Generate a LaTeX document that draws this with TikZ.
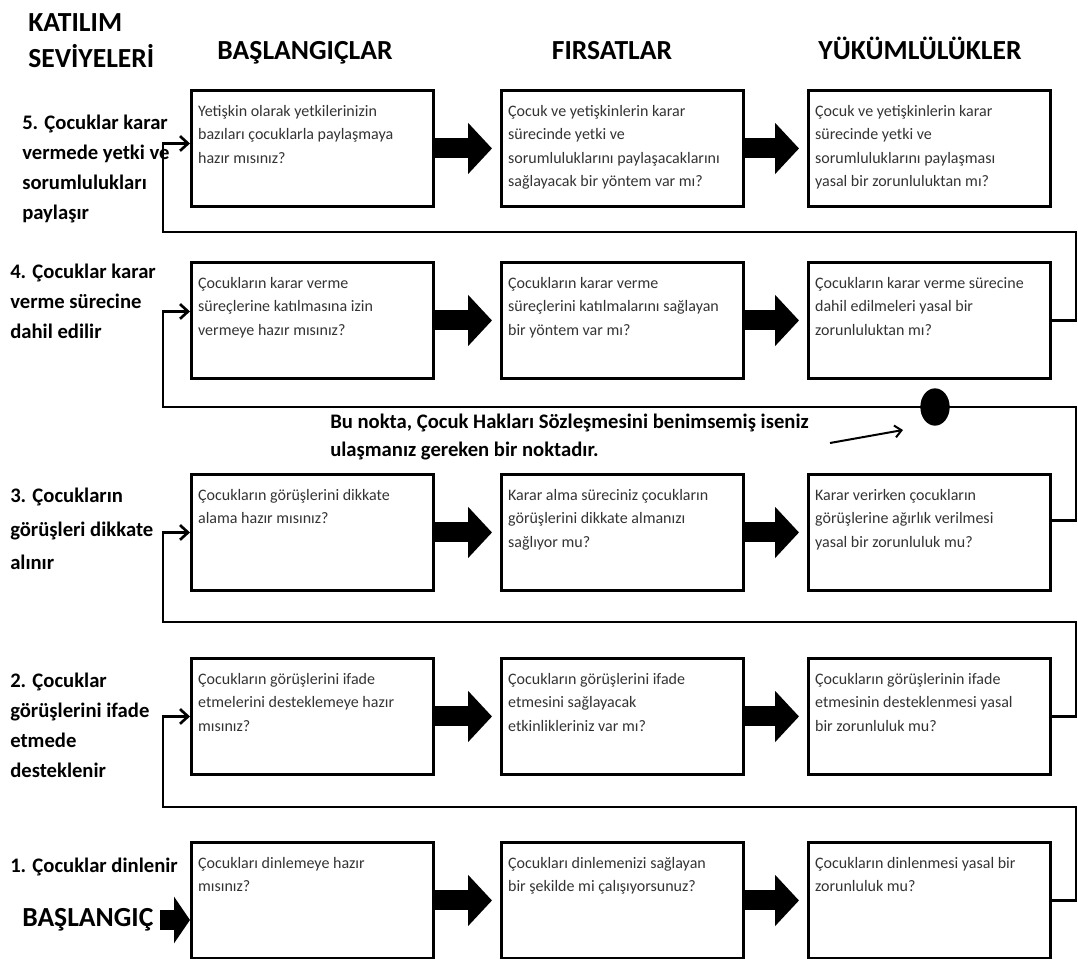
\documentclass[tikz,border=0pt]{standalone}
\usepackage{fontspec}
\setmainfont{Carlito}
\usetikzlibrary{arrows.meta,shapes.geometric}

\tikzset{
  qbox/.style={draw, line width=2.2pt, inner xsep=5pt, inner ysep=1.5pt, anchor=north west},
  lvl/.style={font=\fontsize{15.5}{22.5}\selectfont\bfseries, align=left, anchor=north west, inner sep=0pt},
  head/.style={font=\fontsize{20.7}{27}\selectfont\bfseries, inner sep=0pt},
  fat/.style={line width=15pt, -{Triangle[length=18pt,width=37.5pt]}, shorten >=6pt},
  back/.style={line width=2pt, -{Straight Barb[length=6pt,width=11pt,line width=2pt]}},
  pointer/.style={line width=1.5pt, -{Straight Barb[length=5pt,width=9pt,line width=1.5pt]}},
  dot/.style={ellipse, fill=black, minimum width=22pt, minimum height=28pt, inner sep=0pt}
}
\newcommand{\qtext}[1]{\begin{minipage}[c][84pt][t]{171.5pt}\raggedright\fontsize{12}{17.5}\selectfont\color{black!80}\rule{0pt}{18pt}#1\end{minipage}}

\begin{document}
\begin{tikzpicture}[x=0.75pt,y=0.75pt,yscale=-1,xscale=1]
                    \useasboundingbox (0,0) rectangle (1078,959);

                    % Text Node
                    \node[head, anchor=north west, align=left] (title) at (28,13) {KATILIM\\SEVİYELERİ};
                    % Text Node
                    \node[head, anchor=base] (col1) at (305,60) {BAŞLANGIÇLAR};
                    % Text Node
                    \node[head, anchor=base] (col2) at (612,60) {FIRSATLAR};
                    % Text Node
                    \node[head, anchor=base] (col3) at (920,60) {YÜKÜMLÜLÜKLER};

                    %Shape: Rectangle (row 5)
                    \node[qbox] (L5) at (190,89) {\qtext{Yetişkin olarak yetkilerinizin\\bazıları çocuklarla paylaşmaya\\hazır mısınız?}};
                    \node[qbox] (M5) at (500,89) {\qtext{Çocuk ve yetişkinlerin karar\\sürecinde yetki ve\\sorumluluklarını paylaşacaklarını\\sağlayacak bir yöntem var mı?}};
                    \node[qbox] (R5) at (807,89) {\qtext{Çocuk ve yetişkinlerin karar\\sürecinde yetki ve\\sorumluluklarını paylaşması\\yasal bir zorunluluktan mı?}};
                    %Shape: Rectangle (row 4)
                    \node[qbox] (L4) at (190,261) {\qtext{Çocukların karar verme\\süreçlerine katılmasına izin\\vermeye hazır mısınız?}};
                    \node[qbox] (M4) at (500,261) {\qtext{Çocukların karar verme\\süreçlerini katılmalarını sağlayan\\bir yöntem var mı?}};
                    \node[qbox] (R4) at (807,261) {\qtext{Çocukların karar verme sürecine\\dahil edilmeleri yasal bir\\zorunluluktan mı?}};
                    %Shape: Rectangle (row 3)
                    \node[qbox] (L3) at (190,473) {\qtext{Çocukların görüşlerini dikkate\\alama hazır mısınız?}};
                    \node[qbox] (M3) at (500,473) {\qtext{Karar alma süreciniz çocukların\\görüşlerini dikkate almanızı\\sağlıyor mu?}};
                    \node[qbox] (R3) at (807,473) {\qtext{Karar verirken çocukların\\görüşlerine ağırlık verilmesi\\yasal bir zorunluluk mu?}};
                    %Shape: Rectangle (row 2)
                    \node[qbox] (L2) at (190,657) {\qtext{Çocukların görüşlerini ifade\\etmelerini desteklemeye hazır\\mısınız?}};
                    \node[qbox] (M2) at (500,657) {\qtext{Çocukların görüşlerini ifade\\etmesini sağlayacak\\etkinlikleriniz var mı?}};
                    \node[qbox] (R2) at (807,657) {\qtext{Çocukların görüşlerinin ifade\\etmesinin desteklenmesi yasal\\bir zorunluluk mu?}};
                    %Shape: Rectangle (row 1)
                    \node[qbox] (L1) at (190,841) {\qtext{Çocukları dinlemeye hazır\\mısınız?}};
                    \node[qbox] (M1) at (500,841) {\qtext{Çocukları dinlemenizi sağlayan\\bir şekilde mi çalışıyorsunuz?}};
                    \node[qbox] (R1) at (807,841) {\qtext{Çocukların dinlenmesi yasal bir\\zorunluluk mu?}};

                    % Text Node
                    \node[lvl] (lev5) at (22,115) {5. Çocuklar karar\\vermede yetki ve\\sorumlulukları\\paylaşır};
                    % Text Node
                    \node[lvl] (lev4) at (10,264) {4. Çocuklar karar\\verme sürecine\\dahil edilir};
                    % Text Node
                    \node[lvl, font=\fontsize{15.5}{25}\selectfont\bfseries] (lev3) at (10,488) {3. Çocukların\\görüşleri dikkate\\alınır};
                    % Text Node
                    \node[lvl] (lev2) at (10,673) {2. Çocuklar\\görüşlerini ifade\\etmede\\desteklenir};
                    % Text Node
                    \node[lvl] (lev1) at (10,858) {1. Çocuklar dinlenir};
                    % Text Node
                    \node[head, anchor=west] (start) at (22,920) {BAŞLANGIÇ};

                    %Block Arrows
                    \draw[fat] (L5.east) -- (M5.west);
                    \draw[fat] (M5.east) -- (R5.west);
                    \draw[fat] (L4.east) -- (M4.west);
                    \draw[fat] (M4.east) -- (R4.west);
                    \draw[fat] (L3.east) -- (M3.west);
                    \draw[fat] (M3.east) -- (R3.west);
                    \draw[fat] (L2.east) -- (M2.west);
                    \draw[fat] (M2.east) -- (R2.west);
                    \draw[fat] (L1.east) -- (M1.west);
                    \draw[fat] (M1.east) -- (R1.west);
                    \draw[line width=15pt, -{Triangle[length=12pt,width=34.5pt]}] ([xshift=5pt]start.east) -- (start.east -| L1.west);

                    %Straight Lines
                    \draw[back] (R4.east) -| (1076,232) -- (163,232) |- ([yshift=-3.75pt]L5.west);
                    \draw[back] ([yshift=-9pt]R3.east) -| (1076,407) -- (163,407) |- ([yshift=-6.75pt]L4.west);
                    \draw[back] (R2.east) -| (1076,622) -- (163,622) |- (L3.west);
                    \draw[back] (R1.east) -| (1076,807) -- (163,807) |- (L2.west);

                    % Ellipse
                    \node[dot] (cp) at (935,407) {};
                    % Text Node
                    \node[lvl, font=\fontsize{15.5}{21}\selectfont\bfseries] (note) at (330,414) {Bu nokta, Çocuk Hakları Sözleşmesini benimsemiş iseniz\\ulaşmanız gereken bir noktadır.};
                    \coordinate (ptail) at (830,443);
                    \coordinate (phead) at (903,430);
                    \draw[pointer] (ptail) -- (phead);

\end{tikzpicture}
\end{document}
